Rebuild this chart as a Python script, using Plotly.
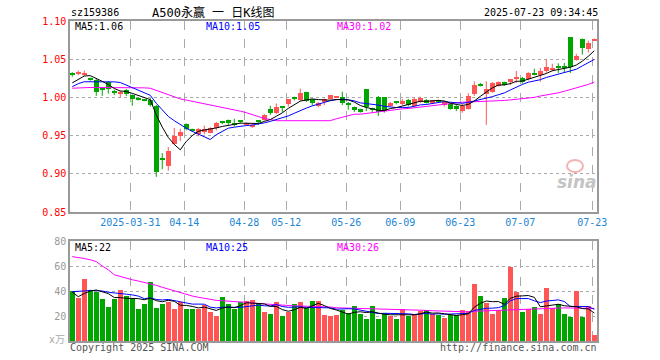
import plotly.graph_objects as go

dates = ["2025-03-17","2025-03-18","2025-03-19","2025-03-20","2025-03-21","2025-03-24","2025-03-25","2025-03-26","2025-03-27","2025-03-28","2025-03-31",
         "2025-04-01","2025-04-02","2025-04-03","2025-04-07","2025-04-08","2025-04-09","2025-04-10","2025-04-11","2025-04-14","2025-04-15","2025-04-16",
         "2025-04-17","2025-04-18","2025-04-21","2025-04-22","2025-04-23","2025-04-24","2025-04-25","2025-04-28","2025-04-29","2025-04-30",
         "2025-05-06","2025-05-07","2025-05-08","2025-05-09","2025-05-12","2025-05-13","2025-05-14","2025-05-15","2025-05-16","2025-05-19",
         "2025-05-20","2025-05-21","2025-05-22","2025-05-23","2025-05-26","2025-05-27","2025-05-28","2025-05-29","2025-05-30",
         "2025-06-03","2025-06-04","2025-06-05","2025-06-06","2025-06-09","2025-06-10","2025-06-11","2025-06-12","2025-06-13","2025-06-16",
         "2025-06-17","2025-06-18","2025-06-19","2025-06-20","2025-06-23","2025-06-24","2025-06-25","2025-06-26","2025-06-27","2025-06-30",
         "2025-07-01","2025-07-02","2025-07-03","2025-07-04","2025-07-07","2025-07-08","2025-07-09","2025-07-10","2025-07-11","2025-07-14",
         "2025-07-15","2025-07-16","2025-07-17","2025-07-18","2025-07-21","2025-07-22","2025-07-23"]

opens = [1.031,1.031,1.0305,1.025,1.023,1.011,1.020,1.008,1.004,1.010,1.003,0.9985,0.997,0.997,0.989,0.921,0.910,0.939,0.950,0.965,
         0.958,0.952,0.955,0.954,0.960,0.9675,0.9705,0.967,0.9685,0.965,0.9615,0.9685,0.971,0.985,0.980,0.987,0.991,0.9985,0.997,1.0066,
         0.9975,0.989,0.9935,0.998,0.9998,1.000,0.991,0.987,0.985,1.011,0.9845,1.000,1.000,0.989,0.9935,0.991,0.9965,0.989,0.9936,0.997,
         0.9925,0.9955,0.990,0.992,0.989,0.9816,0.985,1.0048,1.016,1.0045,1.0075,1.015,1.020,1.020,1.0245,1.026,1.024,1.031,1.029,1.0346,
         1.036,1.0395,1.0395,1.0785,1.049,1.0765,1.0635,1.075]
highs = [1.033,1.035,1.035,1.026,1.025,1.012,1.021,1.010,1.009,1.011,1.004,1.000,0.998,0.999,0.990,0.927,0.935,0.960,0.959,0.966,
         0.959,0.960,0.963,0.961,0.968,0.969,0.971,0.972,0.970,0.967,0.965,0.970,0.978,0.989,0.992,0.9875,0.998,1.001,1.0115,1.0075,
         0.998,0.994,0.9985,1.003,1.001,1.0075,0.994,0.988,0.985,1.011,0.9865,1.0018,1.000,0.994,0.995,0.998,0.998,1.000,1.001,0.998,
         0.9965,0.997,0.9945,0.993,0.991,0.9915,1.0055,1.021,1.019,1.021,1.020,1.021,1.0205,1.024,1.0346,1.027,1.033,1.0375,1.0385,1.050,
         1.044,1.0447,1.045,1.0785,1.057,1.077,1.0743,1.077]
lows = [1.027,1.029,1.028,1.022,1.002,1.002,1.005,1.003,1.000,1.002,0.989,0.996,0.995,0.988,0.896,0.906,0.904,0.938,0.943,0.957,
        0.955,0.949,0.952,0.953,0.957,0.965,0.964,0.962,0.966,0.964,0.960,0.964,0.9695,0.977,0.978,0.9805,0.988,0.996,0.995,0.994,
        0.9895,0.987,0.990,0.997,0.999,0.990,0.984,0.981,0.980,0.982,0.981,0.9756,0.980,0.988,0.991,0.990,0.988,0.988,0.9925,0.992,
        0.991,0.994,0.988,0.984,0.982,0.980,0.984,1.002,1.0145,0.964,1.006,1.014,1.015,1.016,1.019,1.018,1.022,1.029,1.0205,1.032,
        1.034,1.032,1.032,1.032,1.048,1.056,1.0588,1.074]
closes = [1.030,1.032,1.0315,1.024,1.0075,1.010,1.011,1.006,1.0075,1.004,0.998,0.997,0.9965,0.990,0.903,0.919,0.930,0.950,0.955,0.958,
          0.957,0.958,0.959,0.960,0.966,0.967,0.967,0.9635,0.968,0.9658,0.964,0.968,0.977,0.980,0.9875,0.9865,0.9975,0.998,1.006,0.9955,
          0.993,0.993,0.9975,1.0025,1.0003,0.993,0.9905,0.983,0.9805,0.987,0.984,0.981,0.982,0.993,0.993,0.995,0.990,0.9975,0.9995,0.9925,
          0.996,0.995,0.9935,0.985,0.9846,0.989,1.002,1.0158,1.0155,1.0106,1.0185,1.020,1.0175,1.0235,1.0255,1.0205,1.0315,1.030,1.034,1.0403,
          1.039,1.039,1.039,1.0402,1.0546,1.0643,1.0708,1.0755]
volumes = [39.7,34.7,49.9,40.5,39.2,33.3,26.9,33.9,40.5,36.0,33.9,25.3,29.3,46.9,26.1,29.3,31.2,25.3,31.2,25.3,
           25.3,25.3,28.5,23.2,20.0,34.9,29.9,25.3,31.2,31.7,32.5,29.9,23.2,21.3,31.2,20.0,23.2,29.3,31.2,26.7,
           31.7,31.7,20.5,19.7,20.5,24.5,22.4,27.7,21.9,17.3,27.7,17.3,22.7,20.0,17.3,25.9,19.7,21.9,24.0,24.5,
           21.3,20.5,18.7,20.5,21.1,24.5,24.0,45.3,35.7,30.4,21.9,24.5,34.4,59.2,39.2,23.2,25.9,27.2,21.3,42.5,
           26.5,29.5,21.3,19.5,40.0,19.5,28.0,5.0]

# moving-average lines (heads cover days whose history is off-chart)
ma5_head = [1.019, 1.024, 1.028, 1.0285]
ma10_head = [1.014, 1.018, 1.0205, 1.0206, 1.0206, 1.0206, 1.0205, 1.0203, 1.0195]
ma30 = [1.012,1.0125,1.013,1.013,1.013,1.013,1.013,1.013,1.013,1.013,1.013,1.013,1.0125,
        1.012,1.009,1.006,1.003,1.000,0.998,0.9965,0.995,0.9935,0.992,0.990,0.9885,0.987,0.9855,0.984,0.982,0.980,0.978,0.975,0.9725,0.971,
        0.9695,0.9695,0.9695,0.9695,0.9695,0.9695,0.9695,0.9695,0.9695,0.9695,
        0.972,0.974,0.976,0.978,0.978,0.979,0.9805,0.981,0.982,0.983,0.9845,0.985,0.9855,0.9865,0.9875,0.988,0.989,0.990,0.991,0.992,
        0.993,0.9937,0.994,0.9942,0.9944,0.995,0.9953,0.9956,0.996,0.9967,0.9975,0.998,0.999,1.000,1.0018,1.003,1.0045,1.006,1.008,1.010,
        1.012,1.0145,1.017,1.020]
vol_ma5_head = [39.0, 35.5, 38.0, 40.0]
vol_ma10_head = [39.5, 39.5, 40.0, 40.5, 40.5, 40.0, 39.0, 38.5, 38.5]
vol_ma30 = [67.5,67.0,66.0,65.0,63.5,60.0,57.0,53.0,51.5,50.0,49.0,48.0,47.0,46.0,44.5,43.0,41.5,40.0,38.5,37.0,
            36.0,35.0,34.0,33.0,32.5,32.2,32.0,31.7,31.3,31.0,30.6,30.0,29.6,29.2,29.0,28.5,28.3,28.1,28.0,27.9,
            27.8,27.7,27.6,27.2,26.6,26.5,26.4,26.3,26.2,26.0,25.8,25.5,25.3,25.1,25.0,24.9,24.8,24.7,24.6,24.5,
            24.2,24.1,24.0,24.0,23.8,23.4,23.3,23.8,24.0,24.2,24.4,24.6,24.8,25.0,25.3,25.6,25.9,26.1,26.3,26.4,
            26.5,26.5,26.5,26.4,26.4,26.3,26.2,26.1]

tick_dates = ["2025-03-31","2025-04-14","2025-04-28","2025-05-12","2025-05-26","2025-06-09","2025-06-23","2025-07-07","2025-07-23"]
tick_text = ["2025-03-31","04-14","04-28","05-12","05-26","06-09","06-23","07-07","07-23"]
price_ticks = [0.85, 0.90, 0.95, 1.00, 1.05, 1.10]
vol_ticks = [20, 40, 60, 80]


def rolling(vals, n, head):
    out = list(head)
    for i in range(len(head), len(vals)):
        out.append(sum(vals[i - n + 1:i + 1]) / n)
    return out

ma5 = rolling(closes, 5, ma5_head)
ma10 = rolling(closes, 10, ma10_head)
vol_ma5 = rolling(volumes, 5, vol_ma5_head)
vol_ma10 = rolling(volumes, 10, vol_ma10_head)

RED = "#ff5555"
GREEN = "#00a600"
W, H = 660, 360
X0, X1 = 70, 597
PY0, PY1 = 21, 212
VY0, VY1 = 241, 341

n = len(dates)
xs = list(range(n))
up = [c >= o for o, c in zip(opens, closes)]
colors = [RED if u else GREEN for u in up]

fig = go.Figure()

# wicks
for flag, col in ((True, RED), (False, GREEN)):
    wx, wy = [], []
    for i in xs:
        if up[i] == flag:
            wx += [i, i, None]
            wy += [lows[i], highs[i], None]
    fig.add_trace(go.Scatter(x=wx, y=wy, mode="lines", line=dict(color=col, width=1),
                             hoverinfo="skip", showlegend=False, xaxis="x", yaxis="y"))

# bodies
base = [min(o, c) for o, c in zip(opens, closes)]
height = [max(abs(c - o), 0.0013) for o, c in zip(opens, closes)]
fig.add_trace(go.Bar(x=xs, y=height, base=base, width=0.8, marker=dict(color=colors, line=dict(width=0)),
                     showlegend=False, xaxis="x", yaxis="y"))

for vals, col in ((ma30, "#ff00ff"), (ma10, "#0000ff"), (ma5, "#000000")):
    fig.add_trace(go.Scatter(x=xs, y=vals, mode="lines", line=dict(color=col, width=1),
                             showlegend=False, xaxis="x", yaxis="y", hoverinfo="skip"))

# volume
fig.add_trace(go.Bar(x=xs, y=volumes, width=0.85, marker=dict(color=colors, line=dict(width=0)),
                     showlegend=False, xaxis="x2", yaxis="y2"))
for vals, col in ((vol_ma30, "#ff00ff"), (vol_ma10, "#0000ff"), (vol_ma5, "#000000")):
    fig.add_trace(go.Scatter(x=xs, y=vals, mode="lines", line=dict(color=col, width=1),
                             showlegend=False, xaxis="x2", yaxis="y2", hoverinfo="skip"))

grid_x = [dates.index(d) - 0.33 for d in tick_dates]
xrange_ = [-0.38, 87.45]
MONO = "DejaVu Sans Mono, Liberation Mono, monospace"
dom_x = [X0 / W, X1 / W]

common_x = dict(range=xrange_, domain=dom_x, tickvals=grid_x, showgrid=True, gridcolor="#aaaaaa",
                griddash="dash", gridwidth=1, showline=True, mirror=True, linecolor="#999999",
                linewidth=1.5, ticks="", zeroline=False, fixedrange=True, automargin=False)
common_y = dict(showgrid=True, gridcolor="#aaaaaa", griddash="dot", gridwidth=1, showline=True,
                mirror=True, linecolor="#999999", linewidth=1.5, ticks="", zeroline=False, fixedrange=True,
                automargin=False)

fig.update_layout(
    width=W, height=H, margin=dict(l=0, r=0, t=0, b=0, autoexpand=False),
    paper_bgcolor="white", plot_bgcolor="white", bargap=0,
    xaxis=dict(common_x, anchor="y", ticktext=tick_text, tickfont=dict(family=MONO, size=10, color="#1c86d6")),
    yaxis=dict(common_y, domain=[1 - PY1 / H, 1 - PY0 / H], range=[0.85, 1.10], tickvals=price_ticks,
               ticktext=["%.2f" % v for v in price_ticks], tickfont=dict(family=MONO, size=10, color="#ff0000")),
    xaxis2=dict(common_x, anchor="y2", showticklabels=False),
    yaxis2=dict(common_y, domain=[1 - VY1 / H, 1 - VY0 / H], range=[0, 80], tickvals=vol_ticks,
                ticktext=[str(v) for v in vol_ticks], tickfont=dict(family=MONO, size=10, color="#999999")),
)


def text(px, py, s, color="#000", size=10, anchor="left", family=MONO, **kw):
    fig.add_annotation(x=px / W, y=1 - py / H, xref="paper", yref="paper", text=s, showarrow=False,
                       xanchor=anchor, yanchor="middle", font=dict(family=family, size=size, color=color), **kw)

text(69, 13, "sz159386", size=10)
text(150, 13, "A500永赢 一 日K线图", size=12, family="DejaVu Sans Mono, Noto Sans CJK SC")
text(600, 13, "2025-07-23 09:34:45", size=10, anchor="right")

text(73, 27, "MA5:%.2f" % ma5[-1], color="#000000")
text(204, 27, "MA10:%.2f" % ma10[-1], color="#0000ff")
text(335, 27, "MA30:%.2f" % ma30[-1], color="#ff00ff")

text(73, 247, "MA5:%d" % round(vol_ma5[-1]), color="#000000")
text(204, 247, "MA10:%d" % round(vol_ma10[-1]), color="#0000ff")
text(335, 247, "MA30:%d" % round(vol_ma30[-1]), color="#ff00ff")

text(67, 339, "x万", color="#aaaaaa", size=10, anchor="right", family="DejaVu Sans, Noto Sans CJK SC")
text(68, 347, "Copyright 2025 SINA.COM", color="#555555")
text(599, 347, "http://finance.sina.com.cn", color="#555555", anchor="right")

# sina watermark
fig.add_shape(type="circle", xref="paper", yref="paper", x0=567 / W, x1=583 / W, y0=1 - 172 / H, y1=1 - 160 / H,
              line=dict(color="#f2b3b3", width=2))
text(577, 182, "<i><b>sina</b></i>", color="#c4c4c4", size=17, anchor="center", family="DejaVu Sans")

fig.write_html("out.html", config={"displayModeBar": False},
               post_script="document.body.style.margin='0';document.body.style.overflow='hidden';")
